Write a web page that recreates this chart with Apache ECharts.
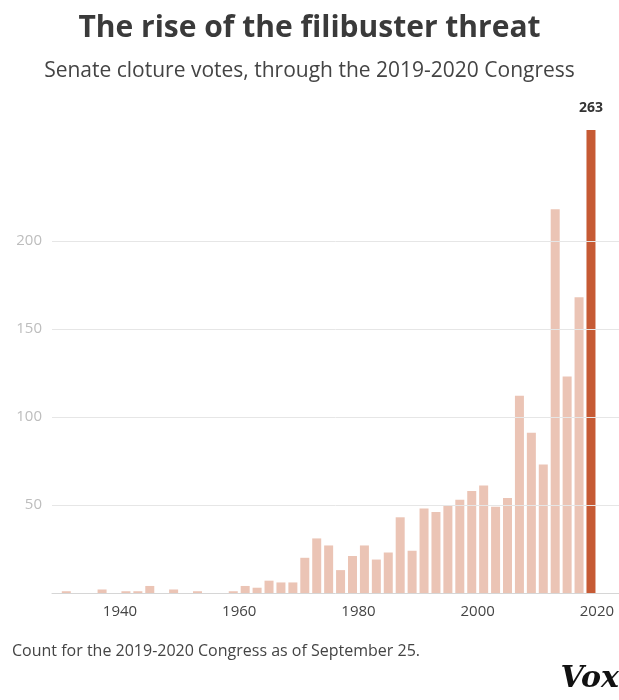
<!DOCTYPE html>
<html>
<head>
<meta charset="utf-8">
<script src="https://cdn.jsdelivr.net/npm/echarts@6/dist/echarts.min.js"></script>
<style>
  html, body { margin: 0; padding: 0; background: #fff; }
  #chart { width: 619px; height: 700px; }
</style>
</head>
<body>
<div id="chart"></div>
<script type="text/javascript">
	// first year of each Congress
	var congressYears = [1931, 1933, 1935, 1937, 1939, 1941, 1943, 1945, 1947, 1949,
		1951, 1953, 1955, 1957, 1959, 1961, 1963, 1965, 1967, 1969,
		1971, 1973, 1975, 1977, 1979, 1981, 1983, 1985, 1987, 1989,
		1991, 1993, 1995, 1997, 1999, 2001, 2003, 2005, 2007, 2009,
		2011, 2013, 2015, 2017, 2019];
	// cloture votes per Congress
	var clotureVotes = [1, 0, 0, 2, 0, 1, 1, 4, 0, 2,
		0, 1, 0, 0, 1, 4, 3, 7, 6, 6,
		20, 31, 27, 13, 21, 27, 19, 23, 43, 24,
		48, 46, 50, 53, 58, 61, 49, 54, 112, 91,
		73, 218, 123, 168, 263];
	var xTickLabels = [1940, 1960, 1980, 2000, 2020];
	var yTickLabels = [50, 100, 150, 200];

	var lastIdx = congressYears.length - 1;
	var barData = [];
	for (var i = 0; i < congressYears.length; i++) {
		var item = { value: [congressYears[i], clotureVotes[i]] };
		if (i === lastIdx) {
			item.itemStyle = { color: '#c65a34' };
			item.label = {
				show: true,
				position: 'top',
				distance: 15,
				color: '#333',
				fontSize: 14,
				fontWeight: 'bold',
				fontFamily: '"Open Sans", sans-serif'
			};
		}
		barData.push(item);
	}

	var option = {
		animation: false,
		backgroundColor: '#fff',
		title: [{
			text: 'The rise of the filibuster threat',
			left: 'center',
			top: 8,
			textStyle: {
				fontFamily: '"Open Sans", "Noto Sans", sans-serif',
				fontSize: 30,
				fontWeight: 'bold',
				color: '#3a3a3a'
			}
		}, {
			text: 'Senate cloture votes, through the 2019-2020 Congress',
			left: 'center',
			top: 56,
			textStyle: {
				fontFamily: '"Open Sans", "Noto Sans", sans-serif',
				fontSize: 21,
				fontWeight: 'normal',
				color: '#444'
			}
		}],
		grid: {
			left: 52,
			right: 0,
			top: 100,
			bottom: 107
		},
		xAxis: {
			type: 'value',
			min: 1928.6,
			max: 2023.7,
			splitLine: { show: false },
			axisTick: { show: false },
			axisLine: { show: true, lineStyle: { color: '#d6d6d6', width: 1 } },
			axisLabel: {
				customValues: xTickLabels,
				formatter: function (v) { return String(v); },
				color: '#444',
				fontSize: 15,
				margin: 11,
				fontFamily: '"Open Sans", "Noto Sans", sans-serif'
			}
		},
		yAxis: {
			type: 'value',
			min: 0,
			max: 280,
			splitLine: { show: false },
			axisLine: { show: false },
			axisTick: { show: false },
			axisLabel: {
				customValues: yTickLabels,
				color: '#bdbdbd',
				fontSize: 15,
				margin: 10,
				fontFamily: '"Open Sans", "Noto Sans", sans-serif'
			}
		},
		series: [{
			type: 'line',
			data: [],
			z: 1,
			silent: true,
			markLine: {
				symbol: 'none',
				silent: true,
				label: { show: false },
				lineStyle: { color: '#e6e6e6', type: 'solid', width: 1 },
				data: yTickLabels.map(function (v) { return { yAxis: v }; })
			}
		}, {
			type: 'bar',
			z: 2,
			barWidth: 9,
			itemStyle: { color: '#ebc4b5' },
			label: { show: false },
			data: barData
		}],
		graphic: [{
			type: 'text',
			left: 12,
			top: 643,
			style: {
				text: 'Count for the 2019-2020 Congress as of September 25.',
				fill: '#444',
				fontSize: 16,
				fontFamily: '"Open Sans", "Noto Sans", sans-serif'
			}
		}, {
			type: 'text',
			right: 0,
			top: 664,
			style: {
				text: 'Vox',
				fill: '#111',
				fontSize: 30,
				fontWeight: 'bold',
				fontStyle: 'italic',
				fontFamily: '"DejaVu Serif", "Liberation Serif", serif'
			}
		}]
	};
	var myChart = echarts.init(document.getElementById('chart'));
	myChart.setOption(option);
</script>
</body>
</html>
